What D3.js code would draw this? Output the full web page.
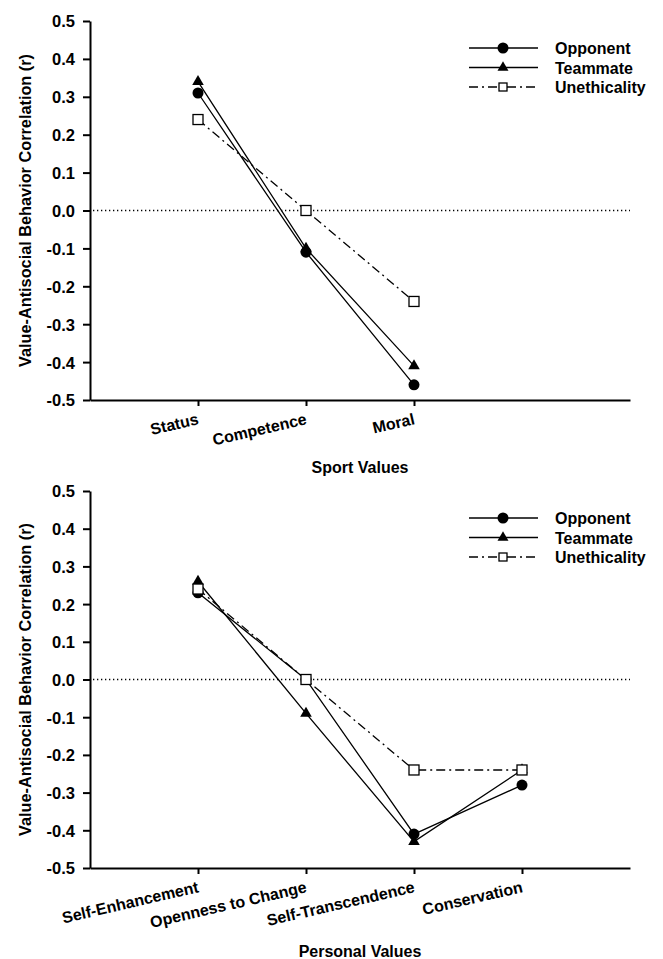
<!DOCTYPE html>
<html>
<head>
<meta charset="utf-8">
<script src="https://cdn.jsdelivr.net/npm/d3@7"></script>
<style>
  body { margin: 0; background: #fff; }
  svg { display: block; font-family: "Liberation Sans", Arial, sans-serif; }
  text { font-weight: bold; font-size: 16px; fill: #000; }
</style>
</head>
<body>
<svg id="chart" width="663" height="959"></svg>
<script>
// values
const sportCategories = ["Status", "Competence", "Moral"];
const sportOpponent = [0.31, -0.11, -0.46];
const sportTeammate = [0.34, -0.10, -0.41];
const sportUnethicality = [0.24, 0.00, -0.24];

const personalCategories = ["Self-Enhancement", "Openness to Change", "Self-Transcendence", "Conservation"];
const personalOpponent = [0.23, 0.00, -0.41, -0.28];
const personalTeammate = [0.26, -0.09, -0.43, -0.24];
const personalUnethicality = [0.24, 0.00, -0.24, -0.24];

const seriesNames = ["Opponent", "Teammate", "Unethicality"];
const yTicks = [-0.5, -0.4, -0.3, -0.2, -0.1, 0.0, 0.1, 0.2, 0.3, 0.4, 0.5];
const yTitle = "Value-Antisocial Behavior Correlation (r)";

const svg = d3.select("#chart");
const left = 90, right = 630;
const dashDot = "9,4,2,4";

const panels = [
  { top: 21, bottom: 400, cats: sportCategories, title: "Sport Values", titleGap: 73,
    series: [sportOpponent, sportTeammate, sportUnethicality] },
  { top: 491, bottom: 868, cats: personalCategories, title: "Personal Values", titleGap: 89,
    series: [personalOpponent, personalTeammate, personalUnethicality] }
];

const tri = d3.symbol().type(d3.symbolTriangle).size(58);
const triSmall = d3.symbol().type(d3.symbolTriangle).size(52);

panels.forEach(p => {
  const g = svg.append("g");
  const x = d3.scaleLinear().domain([0, 5]).range([left, right]);
  const y = d3.scaleLinear().domain([-0.5, 0.5]).range([p.bottom, p.top]);

  // zero reference line
  g.append("line")
    .attr("x1", left + 3).attr("x2", right)
    .attr("y1", y(0)).attr("y2", y(0))
    .attr("stroke", "#000").attr("stroke-width", 1.3)
    .attr("stroke-dasharray", "1.3,2.7");

  // axes
  const yAxis = g.append("g")
    .attr("transform", `translate(${left},0)`)
    .call(d3.axisLeft(y).tickValues(yTicks).tickSize(7).tickSizeOuter(0).tickPadding(8)
      .tickFormat(d => d.toFixed(1)));
  yAxis.selectAll("path, line").attr("stroke", "#000").attr("stroke-width", 2);
  yAxis.selectAll("text").attr("font-family", null).attr("dy", "0.36em")
    .style("font-size", "16.5px");

  const idx = p.cats.map((c, i) => i + 1);
  const xAxis = g.append("g")
    .attr("transform", `translate(0,${p.bottom})`)
    .call(d3.axisBottom(x).tickValues(idx).tickSize(6).tickSizeOuter(0)
      .tickFormat(d => p.cats[d - 1]));
  xAxis.selectAll("path, line").attr("stroke", "#000").attr("stroke-width", 2);
  xAxis.selectAll("text")
    .attr("font-family", null)
    .attr("x", 0).attr("y", 0).attr("dy", 0)
    .attr("text-anchor", "end")
    .attr("transform", "translate(1,24) rotate(-13)");

  g.append("text")
    .attr("x", (left + right) / 2)
    .attr("y", p.bottom + p.titleGap)
    .attr("text-anchor", "middle")
    .text(p.title);

  g.append("text")
    .attr("transform", `translate(31,${(p.top + p.bottom) / 2}) rotate(-90)`)
    .attr("text-anchor", "middle")
    .style("font-size", "16.3px")
    .text(yTitle);

  // lines
  const line = d3.line().x((d, i) => x(i + 1)).y(d => y(d));
  p.series.forEach((s, k) => {
    g.append("path")
      .datum(s)
      .attr("d", line)
      .attr("fill", "none")
      .attr("stroke", "#000")
      .attr("stroke-width", 1.3)
      .attr("stroke-dasharray", k === 2 ? dashDot : null);
  });

  // markers: triangles, circles, then squares on top
  g.selectAll(".tri").data(p.series[1]).join("path")
    .attr("class", "tri")
    .attr("d", tri)
    .attr("transform", (d, i) => `translate(${x(i + 1)},${y(d)})`)
    .attr("fill", "#000");

  g.selectAll(".dot").data(p.series[0]).join("circle")
    .attr("class", "dot")
    .attr("cx", (d, i) => x(i + 1))
    .attr("cy", d => y(d))
    .attr("r", 5.5)
    .attr("fill", "#000");

  g.selectAll(".sq").data(p.series[2]).join("rect")
    .attr("class", "sq")
    .attr("x", (d, i) => x(i + 1) - 5)
    .attr("y", d => y(d) - 5)
    .attr("width", 10).attr("height", 10)
    .attr("fill", "#fff")
    .attr("stroke", "#000")
    .attr("stroke-width", 1.3);

  // legend
  const leg = g.append("g").attr("transform", `translate(469,${p.top + 27})`);
  seriesNames.forEach((name, k) => {
    const row = leg.append("g").attr("transform", `translate(0,${k * 19.5})`);
    row.append("line")
      .attr("x1", 0).attr("x2", 69)
      .attr("stroke", "#000").attr("stroke-width", 1.3)
      .attr("stroke-dasharray", k === 2 ? dashDot : null);
    if (k === 0) {
      row.append("circle").attr("cx", 34).attr("r", 5.5).attr("fill", "#000");
    } else if (k === 1) {
      row.append("path").attr("d", triSmall).attr("transform", "translate(34,0)").attr("fill", "#000");
    } else {
      row.append("rect").attr("x", 30).attr("y", -4).attr("width", 8).attr("height", 8)
        .attr("fill", "#fff").attr("stroke", "#000").attr("stroke-width", 1.3);
    }
    row.append("text").attr("x", 86).attr("y", 6).text(name);
  });
});
</script>
</body>
</html>
